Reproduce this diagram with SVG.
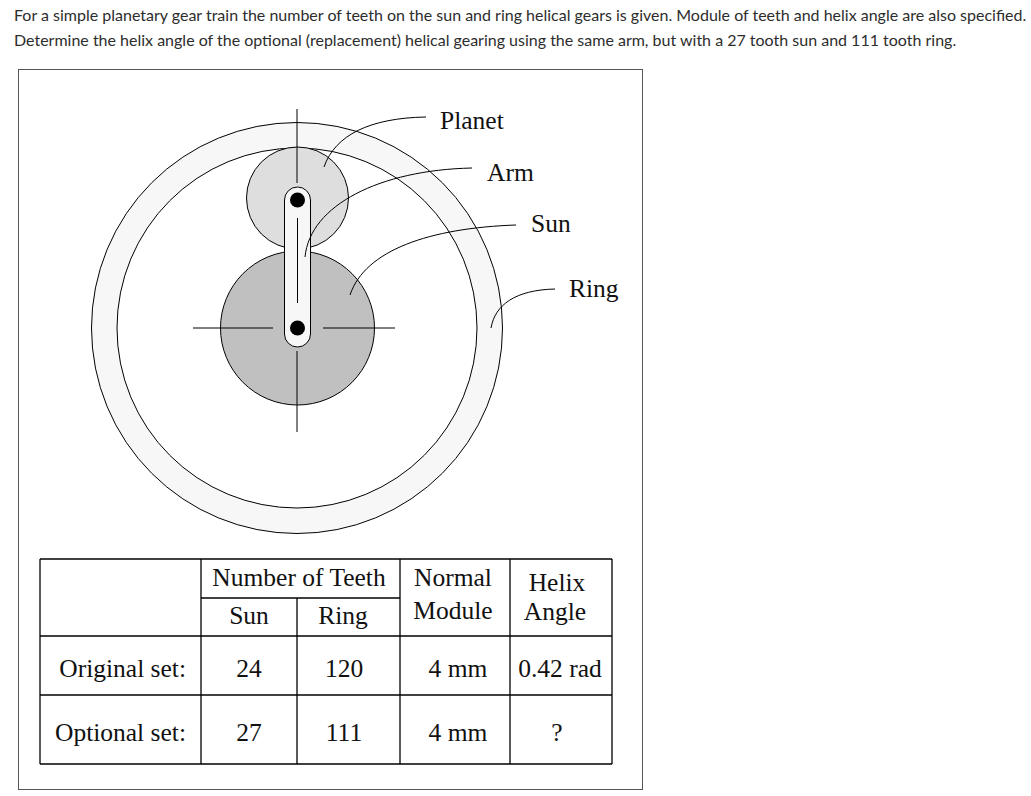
<svg xmlns="http://www.w3.org/2000/svg" width="1031" height="796" viewBox="0 0 1031 796">
<style>
.q{font-family:Lato,"Liberation Sans",sans-serif;font-size:16px;fill:#2d2d2d}
.t{font-family:"Liberation Serif",serif;font-size:25.5px;fill:#111}
.m{text-anchor:middle}
.ln{stroke:#000;stroke-width:1;fill:none}
.tb{stroke:#000;stroke-width:1.3}
</style>
<rect width="1031" height="796" fill="#fff"/>
<text class="q" x="14" y="21">For a simple planetary gear train the number of teeth on the sun and ring helical gears is given. Module of teeth and helix angle are also specified.</text>
<text class="q" x="14" y="46">Determine the helix angle of the optional (replacement) helical gearing using the same arm, but with a 27 tooth sun and 111 tooth ring.</text>
<rect x="18.5" y="69.5" width="624" height="720" fill="none" stroke="#555" stroke-width="1"/>
<g id="ring">
<circle cx="297" cy="328" r="205.5" fill="#f7f7f7" stroke="#000"/>
<circle cx="297" cy="328" r="180" fill="#fff" stroke="#000"/>
</g>
<g id="planet"><circle cx="297.5" cy="198" r="51" fill="#dedede" stroke="#000"/></g>
<g id="sun"><circle cx="297.5" cy="328" r="77" fill="#c0c0c0" stroke="#000"/></g>
<g id="centerlines">
<line class="ln" x1="297" y1="109" x2="297" y2="183"/>
<line class="ln" x1="297" y1="351" x2="297" y2="432"/>
<line class="ln" x1="193" y1="328" x2="273" y2="328"/>
<line class="ln" x1="323" y1="328" x2="395" y2="328"/>
</g>
<g id="arm">
<rect x="284.5" y="187" width="26" height="160" rx="13" fill="#f7f7f7" stroke="#000"/>
<line class="ln" x1="297.5" y1="218" x2="297.5" y2="303"/>
<circle cx="297.5" cy="200" r="7.5" fill="#000"/>
<circle cx="297.5" cy="328" r="7.5" fill="#000"/>
</g>
<g id="connectors" class="ln">
<path d="M324,167 C335,135 370,118 426,117"/>
<path d="M305,257 C310,205 380,170 472,168"/>
<path d="M350,295 C365,250 430,228 516,225"/>
<path d="M491,328 C495,305 515,290 555,289"/>
</g>
<g id="labels">
<text class="t" x="440" y="129">Planet</text>
<text class="t" x="487" y="181">Arm</text>
<text class="t" x="531" y="232">Sun</text>
<text class="t" x="569" y="297">Ring</text>
</g>
<g id="table">
<g class="tb">
<line x1="40" y1="559" x2="612" y2="559"/>
<line x1="201" y1="598" x2="400" y2="598"/>
<line x1="40" y1="636" x2="612" y2="636"/>
<line x1="40" y1="695" x2="612" y2="695"/>
<line x1="40" y1="764" x2="612" y2="764"/>
<line x1="40" y1="559" x2="40" y2="764"/>
<line x1="201" y1="559" x2="201" y2="764"/>
<line x1="297" y1="598" x2="297" y2="764"/>
<line x1="400" y1="559" x2="400" y2="764"/>
<line x1="510" y1="559" x2="510" y2="764"/>
<line x1="612" y1="559" x2="612" y2="764"/>
</g>
<text class="t m" x="299" y="586">Number of Teeth</text>
<text class="t m" x="249" y="624">Sun</text>
<text class="t m" x="343" y="624">Ring</text>
<text class="t m" x="453" y="586">Normal</text>
<text class="t m" x="453" y="619">Module</text>
<text class="t m" x="557" y="591">Helix</text>
<text class="t m" x="555" y="620">Angle</text>
<text class="t" x="186" y="677" text-anchor="end">Original set:</text>
<text class="t m" x="249" y="677">24</text>
<text class="t m" x="344" y="677">120</text>
<text class="t m" x="458" y="677">4 mm</text>
<text class="t m" x="560" y="677">0.42 rad</text>
<text class="t" x="186" y="741" text-anchor="end">Optional set:</text>
<text class="t m" x="249" y="741">27</text>
<text class="t m" x="344" y="741">111</text>
<text class="t m" x="458" y="741">4 mm</text>
<text class="t m" x="557" y="741">?</text>
</g>
</svg>
